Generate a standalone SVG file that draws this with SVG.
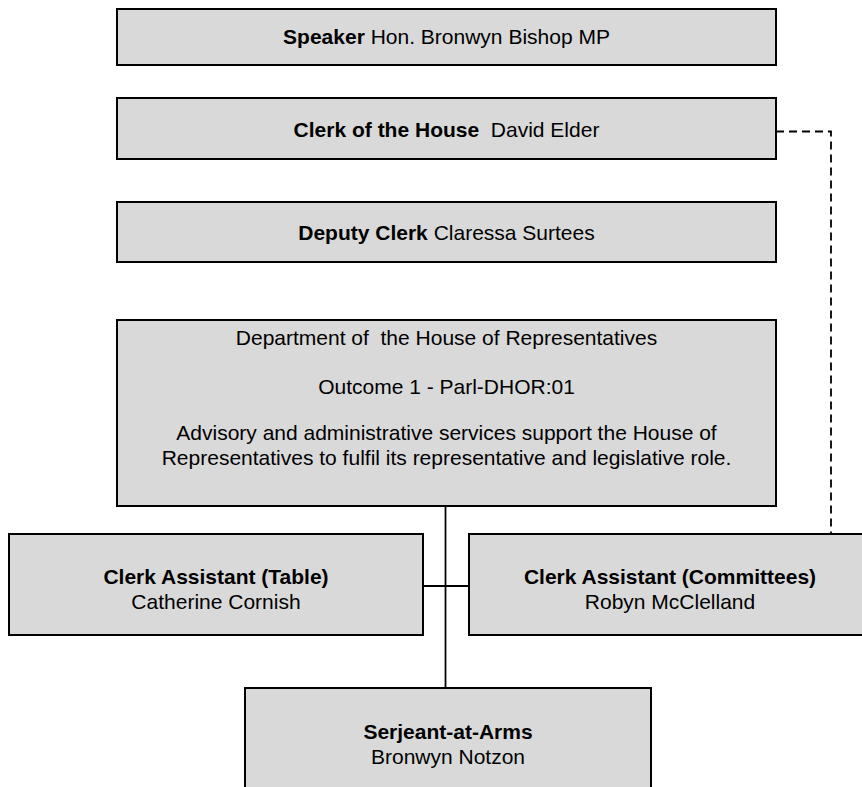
<svg xmlns="http://www.w3.org/2000/svg" width="862" height="787" viewBox="0 0 862 787">
<style>
.box{fill:#d9d9d9;stroke:#000;stroke-width:2}
.t{font-family:"Liberation Sans",Arial,sans-serif;font-size:21px;fill:#000;text-anchor:middle}
.b{font-weight:bold}
.ln{stroke:#000;stroke-width:1.8;fill:none}
.dash{stroke:#000;stroke-width:1.8;fill:none;stroke-dasharray:8,5}
</style>
<rect width="862" height="787" fill="#fff"/>
<g id="connectors">
<line class="ln" x1="445.5" y1="506" x2="445.5" y2="688"/>
<line class="ln" x1="423" y1="586" x2="469" y2="586"/>
<polyline class="dash" points="776,131.5 831,131.5 831,534"/>
</g>
<g id="speaker">
<rect class="box" x="117" y="9" width="659" height="56"/>
<text class="t" x="446.5" y="44"><tspan class="b">Speaker</tspan> Hon. Bronwyn Bishop MP</text>
</g>
<g id="clerk">
<rect class="box" x="117" y="98" width="659" height="61"/>
<text class="t" x="446.5" y="137" xml:space="preserve"><tspan class="b">Clerk of the House</tspan>  David Elder</text>
</g>
<g id="deputy">
<rect class="box" x="117" y="202" width="659" height="60"/>
<text class="t" x="446.5" y="240"><tspan class="b">Deputy Clerk</tspan> Claressa Surtees</text>
</g>
<g id="department">
<rect class="box" x="117" y="320" width="659" height="186"/>
<text class="t" x="446.5" y="345" xml:space="preserve">Department of  the House of Representatives</text>
<text class="t" x="446.5" y="394">Outcome 1 - Parl-DHOR:01</text>
<text class="t" x="446.5" y="440">Advisory and administrative services support the House of</text>
<text class="t" x="446.5" y="465">Representatives to fulfil its representative and legislative role.</text>
</g>
<g id="ca-table">
<rect class="box" x="9" y="534" width="414" height="101"/>
<text class="t b" x="216" y="584">Clerk Assistant (Table)</text>
<text class="t" x="216" y="609">Catherine Cornish</text>
</g>
<g id="ca-committees">
<rect class="box" x="469" y="534" width="402" height="101"/>
<text class="t b" x="670" y="584">Clerk Assistant (Committees)</text>
<text class="t" x="670" y="609">Robyn McClelland</text>
</g>
<g id="serjeant">
<rect class="box" x="245" y="688" width="406" height="110"/>
<text class="t b" x="448" y="739">Serjeant-at-Arms</text>
<text class="t" x="448" y="764">Bronwyn Notzon</text>
</g>
</svg>
